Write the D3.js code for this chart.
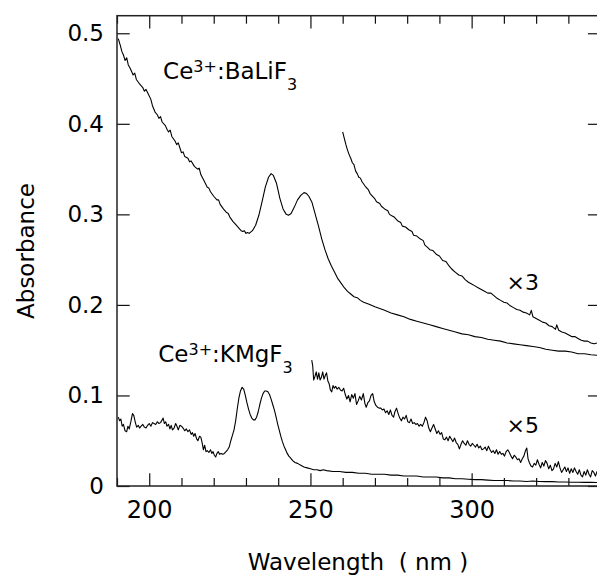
<!DOCTYPE html>
<html>
<head>
<meta charset="utf-8">
<script src="https://cdn.jsdelivr.net/npm/d3@7"></script>
<style>
  body { margin: 0; background: #fff; }
  svg text { font-family: "DejaVu Sans", "Liberation Sans", Arial, sans-serif; fill: #000; }
</style>
</head>
<body>
<svg id="chart" width="597" height="576"></svg>
<script>
"use strict";

// axis ticks
const xMajorTicks = [200, 250, 300];
const xMinorTicks = [190, 210, 220, 230, 240, 260, 270, 280, 290, 310, 320, 330, 340];
const yTicks = [0, 0.1, 0.2, 0.3, 0.4, 0.5];

// Ce3+:BaLiF3 absorbance, [wavelength nm, absorbance]
const baliF3 = [
  [190.4,0.494],[191.0,0.487],[191.5,0.480],[192.0,0.476],[192.5,0.470],[193.0,0.473],[193.5,0.465],
  [194.0,0.462],[194.5,0.458],[195.0,0.454],[195.5,0.456],[196.0,0.449],[197.0,0.444],[198.0,0.440],
  [198.5,0.436],[199.0,0.438],[199.7,0.433],[200.5,0.427],[201.0,0.420],[201.8,0.413],[202.5,0.410],
  [203.0,0.406],[203.5,0.408],[204.0,0.402],[205.0,0.398],[205.5,0.394],[206.0,0.391],[206.5,0.393],
  [207.0,0.386],[208.0,0.381],[208.5,0.377],[209.0,0.379],[210.0,0.368],[210.5,0.369],[211.0,0.364],
  [212.0,0.362],[212.5,0.358],[213.0,0.359],[214.0,0.353],[215.0,0.350],[215.5,0.351],[216.0,0.344],
  [217.0,0.337],[218.0,0.330],[218.5,0.329],[219.0,0.325],[220.0,0.320],[221.0,0.316],[221.5,0.316],
  [222.0,0.311],[223.0,0.306],[224.0,0.302],[224.5,0.301],[225.0,0.297],[226.0,0.292],[227.0,0.288],
  [228.0,0.284],[228.5,0.282],[229.0,0.281],[229.5,0.282],[230.0,0.279],[230.5,0.280],[231.0,0.279],
  [232.0,0.282],[233.0,0.288],[234.0,0.299],[235.0,0.314],[236.0,0.330],[237.0,0.341],[237.8,0.345],
  [238.5,0.343],[239.5,0.334],[240.5,0.318],[241.5,0.306],[242.5,0.300],[243.2,0.299],[244.0,0.301],
  [245.0,0.308],[246.0,0.316],[247.0,0.321],[248.0,0.324],[248.8,0.323],[249.5,0.320],[250.5,0.313],
  [251.5,0.300],[252.5,0.287],[253.5,0.273],[254.5,0.261],[255.5,0.251],[256.5,0.243],[257.5,0.236],
  [258.5,0.229],[259.5,0.224],[260.5,0.219],[261.5,0.215],[262.5,0.212],[263.5,0.209],[264.5,0.208],
  [265.5,0.205],[266.5,0.203],[268.0,0.201],[270.0,0.198],[271.5,0.196],[273.0,0.194],[275.0,0.191],
  [277.0,0.189],[279.0,0.187],[281.0,0.184],[283.0,0.182],[285.0,0.180],[287.0,0.178],[289.0,0.176],
  [291.0,0.174],[293.0,0.172],[295.0,0.170],[297.0,0.168],[299.0,0.167],[301.0,0.165],[303.0,0.164],
  [305.0,0.162],[307.0,0.161],[309.0,0.160],[311.0,0.158],[313.0,0.157],[315.0,0.156],[317.0,0.155],
  [319.0,0.154],[321.0,0.153],[323.0,0.151],[325.0,0.150],[327.0,0.149],[329.0,0.149],[331.0,0.148],
  [333.0,0.146],[335.0,0.146],[337.0,0.145],[340.0,0.144]
];

// Ce3+:BaLiF3 tail multiplied by 3
const baliF3x3 = [
  [260.0,0.391],[260.5,0.384],[261.0,0.377],[261.5,0.371],[262.0,0.366],[262.5,0.362],[263.0,0.357],
  [263.5,0.355],[264.0,0.348],[264.5,0.345],[265.0,0.341],[265.5,0.340],[266.0,0.336],[267.0,0.331],
  [268.0,0.327],[268.5,0.323],[269.0,0.321],[270.0,0.317],[270.5,0.314],[271.5,0.312],[272.0,0.309],
  [273.0,0.306],[274.0,0.304],[274.5,0.300],[275.5,0.298],[276.0,0.297],[277.0,0.293],[278.0,0.291],
  [278.5,0.287],[279.5,0.286],[280.5,0.283],[281.5,0.281],[282.0,0.277],[283.0,0.276],[284.0,0.273],
  [285.0,0.271],[285.5,0.266],[286.5,0.263],[287.0,0.261],[288.0,0.260],[289.0,0.256],[290.0,0.254],
  [291.0,0.249],[292.0,0.248],[293.0,0.243],[293.5,0.241],[294.3,0.238],[295.0,0.236],[296.0,0.233],
  [297.0,0.232],[298.0,0.228],[299.0,0.225],[300.0,0.223],[301.0,0.221],[302.0,0.219],[303.0,0.217],
  [304.0,0.215],[305.0,0.213],[306.0,0.213],[307.0,0.210],[308.0,0.207],[309.0,0.205],[310.0,0.203],
  [311.0,0.202],[312.0,0.199],[313.0,0.197],[314.0,0.195],[315.0,0.194],[316.0,0.192],[317.0,0.191],
  [318.0,0.189],[318.5,0.194],[319.0,0.187],[320.0,0.185],[321.0,0.183],[322.0,0.181],[323.0,0.180],
  [324.0,0.177],[325.0,0.176],[326.0,0.173],[326.4,0.178],[327.0,0.172],[328.0,0.170],[329.0,0.169],
  [330.0,0.167],[331.0,0.165],[332.0,0.165],[333.0,0.163],[334.0,0.161],[335.0,0.160],[336.0,0.160],
  [337.0,0.158],[338.0,0.157],[339.0,0.158],[340.0,0.155]
];

// Ce3+:KMgF3 absorbance
const kmgF3 = [
  [190.4,0.076],[190.8,0.072],[191.2,0.074],[191.6,0.066],[192.0,0.068],[192.5,0.061],[193.0,0.060],
  [193.4,0.066],[193.8,0.063],[194.3,0.071],[194.8,0.080],[195.2,0.078],[195.7,0.070],[196.1,0.065],
  [196.6,0.067],[197.0,0.064],[197.5,0.066],[198.0,0.068],[198.5,0.065],[199.0,0.064],[199.5,0.067],
  [200.0,0.069],[200.5,0.066],[201.0,0.070],[201.5,0.069],[202.0,0.068],[202.5,0.071],[203.0,0.069],
  [203.5,0.070],[204.0,0.073],[204.3,0.075],[204.7,0.069],[205.1,0.071],[205.5,0.066],[206.0,0.068],
  [206.4,0.063],[206.8,0.067],[207.2,0.062],[207.7,0.064],[208.2,0.069],[208.6,0.066],[209.0,0.062],
  [209.5,0.067],[210.0,0.066],[210.5,0.064],[211.0,0.061],[211.5,0.063],[212.0,0.060],[212.5,0.062],
  [213.0,0.057],[213.4,0.059],[213.8,0.055],[214.2,0.058],[214.7,0.052],[215.1,0.050],[215.6,0.055],
  [216.0,0.054],[216.4,0.048],[216.8,0.040],[217.2,0.045],[217.6,0.038],[218.0,0.039],[218.5,0.037],
  [219.0,0.040],[219.4,0.036],[219.8,0.038],[220.2,0.034],[220.6,0.032],[221.0,0.036],[221.4,0.038],
  [221.8,0.035],[222.3,0.036],[222.8,0.035],[223.3,0.036],[223.8,0.038],[224.3,0.040],[224.8,0.043],
  [225.3,0.050],[225.8,0.056],[226.3,0.062],[226.8,0.072],[227.3,0.085],[227.8,0.097],[228.3,0.105],
  [228.8,0.109],[229.3,0.107],[229.8,0.100],[230.3,0.092],[230.8,0.085],[231.3,0.079],[231.8,0.075],
  [232.3,0.073],[232.8,0.073],[233.3,0.076],[233.8,0.082],[234.3,0.090],[234.8,0.097],[235.3,0.102],
  [235.8,0.105],[236.3,0.105],[236.8,0.104],[237.3,0.101],[237.8,0.096],[238.3,0.090],[238.8,0.084],
  [239.3,0.077],[239.8,0.069],[240.3,0.062],[240.8,0.055],[241.3,0.049],[241.8,0.044],[242.3,0.040],
  [242.8,0.036],[243.3,0.033],[243.8,0.031],[244.5,0.028],[245.2,0.026],[246.0,0.025],[247.0,0.023],
  [248.0,0.021],[249.0,0.020],[250.0,0.019],[251.0,0.018],[252.0,0.018],[253.0,0.017],[254.0,0.018],
  [255.0,0.017],[257.0,0.016],[259.0,0.016],[261.0,0.015],[263.0,0.015],[265.0,0.014],[267.0,0.014],
  [269.0,0.013],[271.0,0.013],[273.0,0.013],[275.0,0.012],[277.0,0.012],[279.0,0.011],[281.0,0.011],
  [283.0,0.011],[285.0,0.010],[287.0,0.010],[289.0,0.010],[291.0,0.009],[293.0,0.009],[295.0,0.008],
  [297.0,0.008],[299.0,0.0075],[301.0,0.007],[303.0,0.007],[305.0,0.0065],[307.0,0.006],[309.0,0.006],
  [311.0,0.006],[313.0,0.0055],[315.0,0.0055],[317.0,0.005],[319.0,0.0055],[321.0,0.005],[323.0,0.0048],
  [325.0,0.0048],[327.0,0.0045],[329.0,0.0045],[331.0,0.0042],[333.0,0.0042],[335.0,0.004],
  [337.0,0.004],[340.0,0.0038]
];

// Ce3+:KMgF3 tail multiplied by 5
const kmgF3x5 = [
  [250.4,0.139],[250.7,0.133],[251.0,0.117],[251.4,0.121],[251.8,0.126],[252.2,0.118],[252.6,0.125],
  [253.0,0.117],[253.4,0.120],[253.8,0.126],[254.2,0.118],[254.6,0.122],[255.0,0.125],[255.4,0.116],
  [255.8,0.113],[256.2,0.106],[256.6,0.104],[257.0,0.111],[257.4,0.108],[257.8,0.110],[258.3,0.107],
  [258.8,0.109],[259.3,0.106],[259.8,0.105],[260.3,0.108],[260.8,0.101],[261.3,0.096],[261.8,0.100],
  [262.3,0.093],[262.8,0.101],[263.3,0.097],[263.8,0.102],[264.3,0.090],[264.8,0.094],[265.3,0.099],
  [265.8,0.095],[266.4,0.102],[266.9,0.091],[267.3,0.087],[267.8,0.092],[268.3,0.094],[268.8,0.100],
  [269.3,0.102],[269.8,0.093],[270.3,0.089],[270.8,0.087],[271.3,0.086],[271.8,0.086],[272.3,0.084],
  [272.8,0.085],[273.3,0.081],[273.8,0.083],[274.3,0.079],[274.8,0.084],[275.3,0.078],[275.8,0.076],
  [276.2,0.082],[276.7,0.086],[277.2,0.080],[277.7,0.075],[278.2,0.072],[278.7,0.076],[279.2,0.074],
  [279.7,0.078],[280.2,0.071],[280.7,0.070],[281.2,0.074],[281.7,0.069],[282.2,0.070],[282.7,0.068],
  [283.2,0.069],[283.7,0.066],[284.2,0.068],[284.7,0.066],[285.2,0.070],[285.7,0.076],[286.2,0.072],
  [286.7,0.064],[287.2,0.060],[287.7,0.064],[288.2,0.068],[288.7,0.063],[289.2,0.058],[289.7,0.061],
  [290.2,0.057],[290.7,0.059],[291.2,0.052],[291.7,0.051],[292.2,0.054],[292.7,0.050],[293.2,0.055],
  [293.7,0.052],[294.2,0.049],[294.7,0.053],[295.2,0.048],[295.7,0.046],[296.2,0.041],[296.7,0.046],
  [297.2,0.050],[297.7,0.047],[298.2,0.045],[298.7,0.050],[299.2,0.046],[299.7,0.044],[300.2,0.047],
  [300.7,0.045],[301.2,0.043],[301.7,0.046],[302.2,0.042],[302.7,0.044],[303.2,0.040],[303.7,0.041],
  [304.2,0.043],[304.7,0.039],[305.2,0.044],[305.7,0.040],[306.2,0.037],[306.7,0.039],[307.2,0.036],
  [307.7,0.040],[308.2,0.035],[308.7,0.038],[309.2,0.035],[309.7,0.036],[310.2,0.033],[310.7,0.038],
  [311.2,0.040],[311.7,0.037],[312.2,0.033],[312.7,0.030],[313.2,0.034],[313.7,0.032],[314.2,0.029],
  [314.7,0.030],[315.2,0.026],[315.7,0.030],[316.2,0.033],[316.7,0.039],[317.1,0.042],[317.5,0.030],
  [317.9,0.026],[318.4,0.022],[318.9,0.021],[319.4,0.025],[319.9,0.023],[320.4,0.029],[320.9,0.024],
  [321.4,0.020],[321.9,0.026],[322.4,0.022],[322.9,0.028],[323.4,0.025],[323.9,0.019],[324.4,0.023],
  [324.9,0.017],[325.4,0.019],[325.9,0.025],[326.4,0.021],[326.9,0.027],[327.4,0.020],[327.9,0.015],
  [328.4,0.018],[328.9,0.021],[329.4,0.016],[329.9,0.020],[330.4,0.014],[330.9,0.019],[331.4,0.015],
  [331.9,0.020],[332.4,0.016],[332.9,0.013],[333.4,0.018],[333.9,0.012],[334.4,0.010],[334.9,0.016],
  [335.4,0.012],[335.9,0.018],[336.4,0.013],[336.9,0.010],[337.4,0.017],[337.9,0.015],[338.4,0.011],
  [338.9,0.016],[339.4,0.012],[340.0,0.014]
];

const plotLeft = 117, plotTop = 15.7, plotRight = 600.6, plotBottom = 486;
const fontSize = 23;

const svg = d3.select("#chart");

const x = d3.scaleLinear().domain([190, 340]).range([plotLeft, plotRight]);
const y = d3.scaleLinear().domain([0, 0.5194]).range([plotBottom, plotTop]);

// clip for the curves
svg.append("clipPath").attr("id", "plotClip")
  .append("rect")
  .attr("x", plotLeft).attr("y", plotTop)
  .attr("width", plotRight - plotLeft).attr("height", plotBottom - plotTop);

const line = d3.line().x(d => x(d[0])).y(d => y(d[1]));

const curves = svg.append("g").attr("clip-path", "url(#plotClip)");
[baliF3, baliF3x3, kmgF3, kmgF3x5].forEach(s => {
  curves.append("path")
    .datum(s)
    .attr("fill", "none")
    .attr("stroke", "#000")
    .attr("stroke-width", 1.1)
    .attr("stroke-linejoin", "round")
    .attr("d", line);
});

// axes, ticks pointing inwards
function styleAxis(size) {
  return g => {
    g.select(".domain").remove();
    g.selectAll(".tick line").attr("stroke", "#111").attr("stroke-width", 1.2);
    g.selectAll("text").attr("font-size", size).attr("font-family", null).attr("fill", "#000");
  };
}

svg.append("g")
  .attr("transform", `translate(0,${plotBottom})`)
  .call(d3.axisBottom(x).tickValues(xMajorTicks).tickSize(-12.7).tickPadding(15).tickFormat(d3.format("d")))
  .call(styleAxis(24));

svg.append("g")
  .attr("transform", `translate(0,${plotBottom})`)
  .call(d3.axisBottom(x).tickValues(xMinorTicks).tickSize(-8).tickFormat(""))
  .call(styleAxis(24));

svg.append("g")
  .attr("transform", `translate(0,${plotTop})`)
  .call(d3.axisTop(x).tickValues(xMajorTicks).tickSize(-12.7).tickFormat(""))
  .call(styleAxis(24));

svg.append("g")
  .attr("transform", `translate(0,${plotTop})`)
  .call(d3.axisTop(x).tickValues(xMinorTicks).tickSize(-8).tickFormat(""))
  .call(styleAxis(24));

svg.append("g")
  .attr("transform", `translate(${plotLeft},0)`)
  .call(d3.axisLeft(y).tickValues(yTicks).tickSize(-12.7).tickPadding(13)
    .tickFormat(d => d === 0 ? "0" : d3.format(".1f")(d)))
  .call(styleAxis(23));

svg.append("g")
  .attr("transform", `translate(${plotRight},0)`)
  .call(d3.axisRight(y).tickValues(yTicks).tickSize(-12.7).tickFormat(""))
  .call(styleAxis(23));

// frame
svg.append("rect")
  .attr("x", plotLeft).attr("y", plotTop)
  .attr("width", plotRight - plotLeft).attr("height", plotBottom - plotTop)
  .attr("fill", "none")
  .attr("stroke", "#222")
  .attr("stroke-width", 1.5);

// axis titles
svg.append("text")
  .attr("transform", "translate(34,251) rotate(-90)")
  .attr("text-anchor", "middle")
  .attr("font-size", fontSize)
  .text("Absorbance");

svg.append("text")
  .attr("x", 358).attr("y", 570)
  .attr("text-anchor", "middle")
  .attr("font-size", fontSize)
  .style("white-space", "pre")
  .text("Wavelength  ( nm )");

// sample labels
function sampleLabel(wl, ab, host) {
  const t = svg.append("text").attr("x", x(wl)).attr("y", y(ab)).attr("font-size", fontSize);
  t.append("tspan").text("Ce");
  t.append("tspan").attr("font-size", 16).attr("dy", -7).text("3+");
  t.append("tspan").attr("dy", 7).text(":" + host);
  t.append("tspan").attr("font-size", 16).attr("dy", 11).text("3");
}
sampleLabel(204.3, 0.4495, "BaLiF");
sampleLabel(202.8, 0.1373, "KMgF");

svg.append("text")
  .attr("x", x(310.8)).attr("y", y(0.2162))
  .attr("font-size", 22)
  .text("×3");

svg.append("text")
  .attr("x", x(310.8)).attr("y", y(0.0588))
  .attr("font-size", 22)
  .text("×5");
</script>
</body>
</html>
